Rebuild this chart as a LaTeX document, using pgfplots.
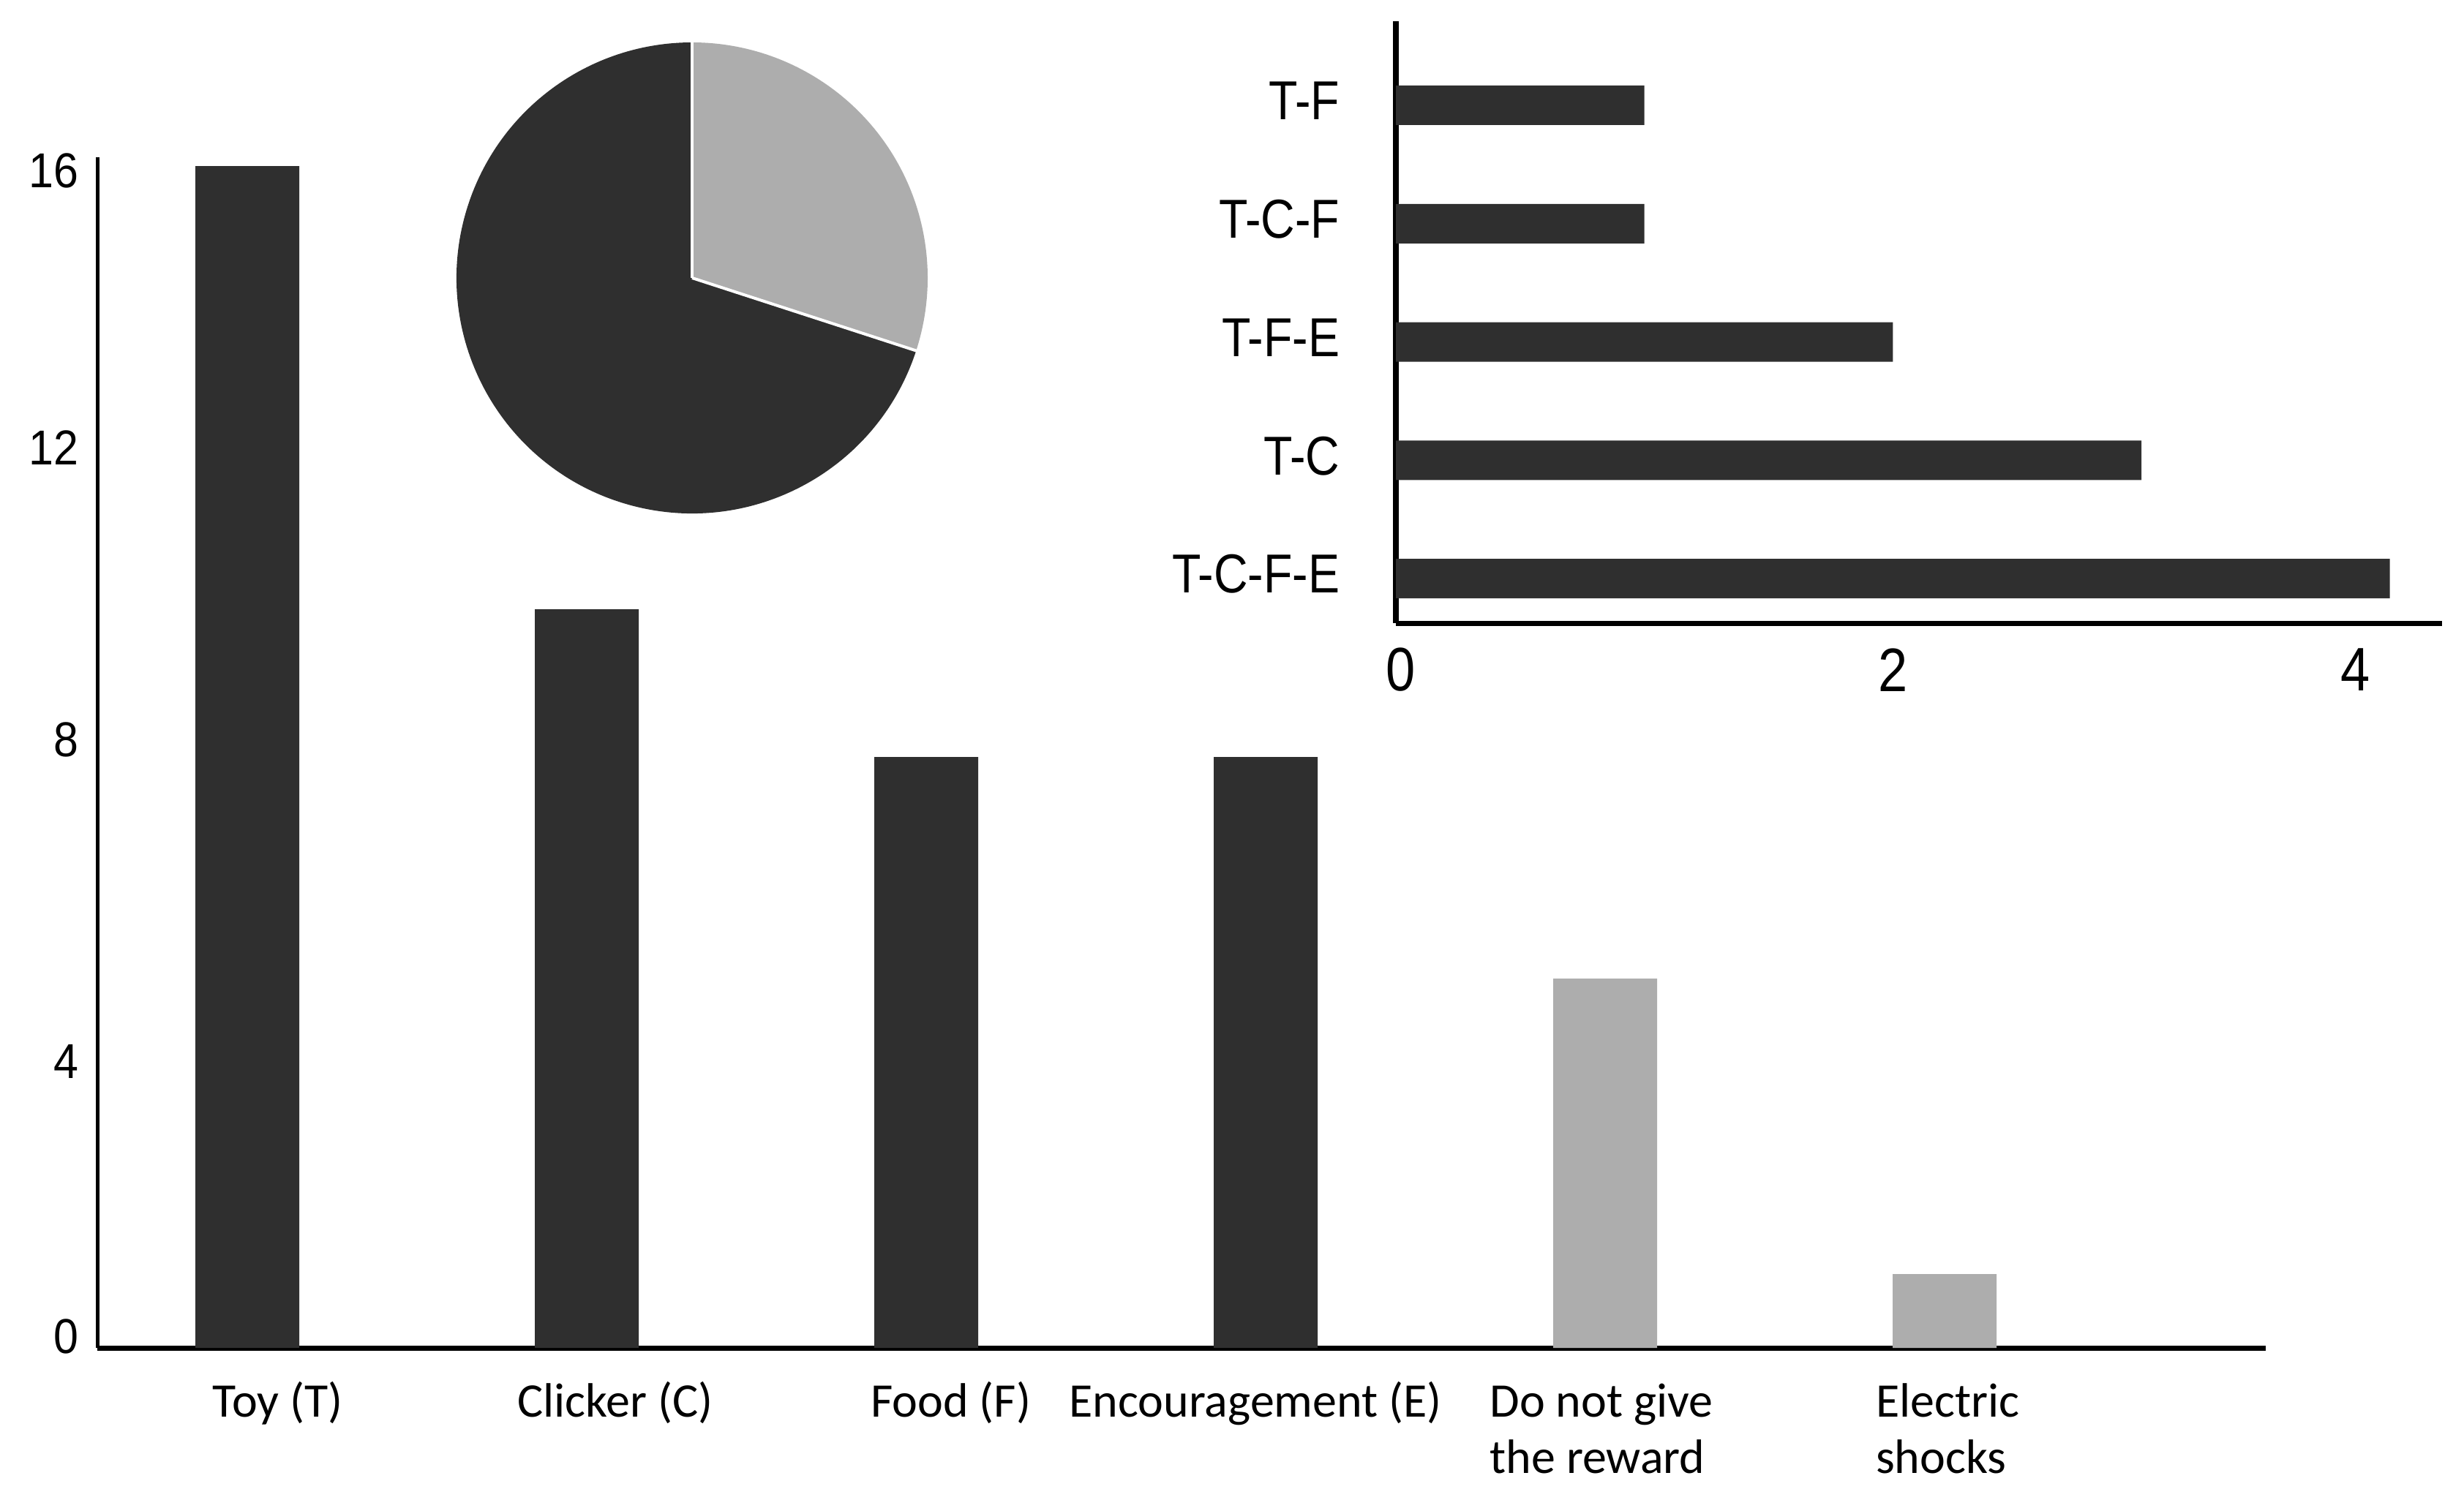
\documentclass[border=0pt]{standalone}
\usepackage{fontspec}
\usepackage{pgfplots}
\pgfplotsset{compat=1.18}
\newfontfamily\calib{Carlito}
\newfontfamily\arial{Liberation Sans}
\definecolor{darkbar}{HTML}{2F2F2F}
\definecolor{lightbar}{HTML}{ADADAD}
\begin{document}
\begin{tikzpicture}
\useasboundingbox (0,0) rectangle (842pt,512.5pt);
% ---------------- main bar chart ----------------
\begin{axis}[
  at={(33.25pt,51.75pt)}, anchor=south west,
  scale only axis, width=741pt, height=407pt,
  xmin=-0.442, xmax=5.946, ymin=0, ymax=16.12,
  axis x line*=bottom, axis y line*=left,
  x axis line style={line width=1.75pt,-},
  y axis line style={line width=1.25pt,-},
  major tick length=0pt,
  ytick={0.15,3.88,8.23,12.19,15.94},
  yticklabels={0,4,8,12,16},
  yticklabel style={font=\arial\fontsize{16.75}{20}\selectfont, anchor=east, inner sep=0pt, xshift=-6.25pt, xscale=0.91},
  xtick={0.09,1.084,2.073,2.97,3.989,5.009},
  xticklabels={\strut Toy (T),\strut Clicker (C),\strut Food (F),\strut Encouragement (E),{\strut Do not give\\the reward},{\strut Electric\\shocks}},
  xticklabel style={font=\calib\fontsize{16.5}{19.25}\selectfont, align=left, anchor=north, inner sep=0pt, yshift=-10pt},
  ybar, bar width=35.5pt, bar shift=0pt,
  clip=false,
]
\addplot[fill=darkbar, draw=none] coordinates {(0,16) (1,10) (2,8) (3,8)};
\addplot[fill=lightbar, draw=none] coordinates {(4,5) (5,1)};
\end{axis}
% ---------------- pie ----------------
\pgfmathsetmacro{\pieA}{30}% light share (percent)
\pgfmathsetmacro{\pieB}{70}% dark share (percent)
\pgfmathsetmacro{\angA}{90-3.6*\pieA}
\pgfmathsetmacro{\angB}{\angA-3.6*\pieB}
\begin{axis}[
  at={(236.5pt,417.5pt)}, anchor=center,
  scale only axis, width=161pt, height=161pt,
  xmin=-1, xmax=1, ymin=-1, ymax=1, hide axis, clip=false,
]
\fill[lightbar] (axis cs:0,0) -- ++(90:80.5pt) arc[start angle=90, end angle=\angA, radius=80.5pt] -- cycle;
\fill[darkbar] (axis cs:0,0) -- ++(\angA:80.5pt) arc[start angle=\angA, end angle=\angB, radius=80.5pt] -- cycle;
\draw[white, line width=1pt] (axis cs:0,0) -- ++(90:80.9pt);
\draw[white, line width=1pt] (axis cs:0,0) -- ++(\angA:80.9pt);
\end{axis}
% ---------------- inset horizontal bars ----------------
\begin{axis}[
  at={(477pt,299.5pt)}, anchor=south west,
  scale only axis, width=357.5pt, height=205.75pt,
  xmin=0, xmax=4.21, ymin=-0.377, ymax=4.711,
  axis x line*=bottom, axis y line*=left,
  x axis line style={line width=1.75pt,-},
  y axis line style={line width=2pt,-},
  major tick length=0pt,
  xtick={0.02,2,3.86},
  xticklabels={0,2,4},
  xticklabel style={font=\arial\fontsize{21}{24}\selectfont, anchor=center, inner sep=0pt, yshift=-16pt, xscale=0.86},
  ytick={0,1,2,3,4},
  yticklabels={T-C-F-E,T-C,T-F-E,T-C-F,T-F},
  yticklabel style={font=\arial\fontsize{18.75}{22}\selectfont, anchor=east, inner sep=0pt, xshift=-19pt, yshift=1.5pt, xscale=0.86},
  xbar, bar width=13.5pt, bar shift=0pt,
  clip=false,
]
\addplot[fill=darkbar, draw=none] coordinates {(4,0) (3,1) (2,2) (1,3) (1,4)};
\end{axis}
\end{tikzpicture}
\end{document}
